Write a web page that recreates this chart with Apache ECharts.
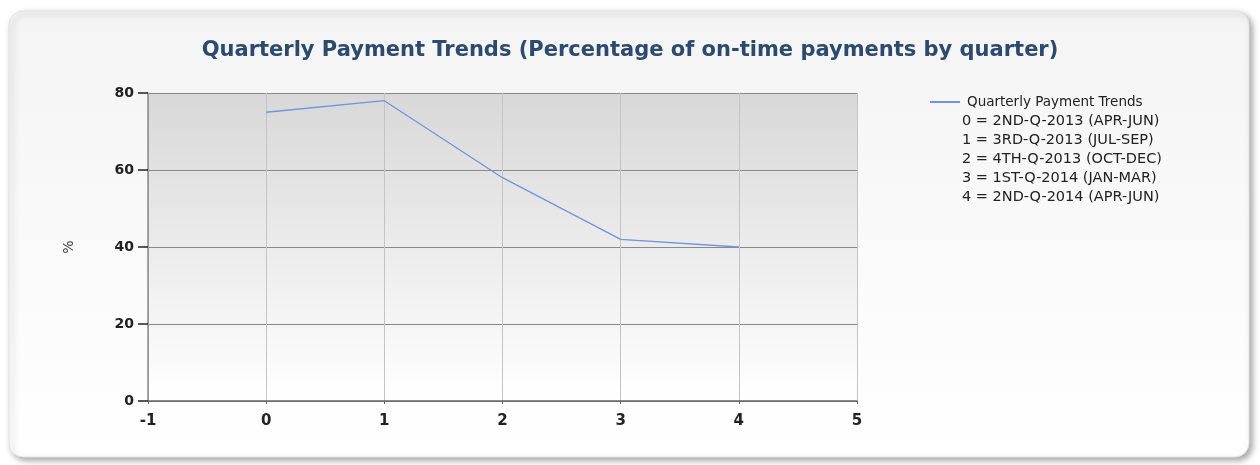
<!DOCTYPE html>
<html><head><meta charset="utf-8">
<script src="https://cdn.jsdelivr.net/npm/echarts@6/dist/echarts.min.js"></script>
<style>html,body{margin:0;padding:0;background:#fff}#c{width:1260px;height:465px}</style>
</head><body><div id="c"></div>
<script>
const quarters = [0, 1, 2, 3, 4];
const onTimePct = [75, 78, 58, 42, 40];
const quarterLabels = [
  '0 = 2ND-Q-2013 (APR-JUN)',
  '1 = 3RD-Q-2013 (JUL-SEP)',
  '2 = 4TH-Q-2013 (OCT-DEC)',
  '3 = 1ST-Q-2014 (JAN-MAR)',
  '4 = 2ND-Q-2014 (APR-JUN)'
];
const yTicks = [0, 20, 40, 60, 80];
const xTicks = [-1, 0, 1, 2, 3, 4, 5];
const seriesName = 'Quarterly Payment Trends';
const titleText = 'Quarterly Payment Trends (Percentage of on-time payments by quarter)';

const chart = echarts.init(document.getElementById('c'), null, {renderer: 'canvas'});
const font = 'Tahoma, "DejaVu Sans", sans-serif';
chart.setOption({
  animation: false,
  backgroundColor: '#ffffff',
  graphic: [
    {
      type: 'rect', z: -10,
      shape: {x: 9, y: 11, width: 1240, height: 446, r: 14},
      style: {
        fill: new echarts.graphic.LinearGradient(0, 0, 0, 1, [
          {offset: 0, color: '#f4f4f4'}, {offset: 1, color: '#ffffff'}
        ]),
        stroke: '#e2e2e2', lineWidth: 1,
        shadowBlur: 6, shadowOffsetX: 3, shadowOffsetY: 3, shadowColor: 'rgba(0,0,0,0.35)'
      }
    },
    {
      type: 'text', left: 962, top: 112, z: 10,
      style: {
        text: quarterLabels.join('\n'),
        font: '14.5px ' + font, fill: '#222', lineHeight: 19
      }
    }
  ],
  title: {
    text: titleText, left: 'center', top: 35,
    textStyle: {color: '#2c4a6e', fontSize: 21, fontWeight: 'bold', fontFamily: font}
  },
  legend: {
    left: 925, top: 90, itemWidth: 30, itemHeight: 2, itemGap: 4,
    textStyle: {color: '#222', fontSize: 13.5, fontFamily: font, padding: [0, 0, 0, 2]},
    data: [{name: seriesName, icon: 'path://M0,0H30V2H0Z'}]
  },
  grid: {
    left: 148, right: 403, top: 93, bottom: 64,
    show: true, borderColor: '#8a8a8a', borderWidth: 0,
    backgroundColor: new echarts.graphic.LinearGradient(0, 0, 0, 1, [
      {offset: 0, color: '#d8d8d8'}, {offset: 1, color: '#ffffff'}
    ])
  },
  xAxis: {
    type: 'value', min: xTicks[0], max: xTicks[xTicks.length - 1], interval: 1,
    axisLine: {show: true, onZero: false, lineStyle: {color: '#666', width: 1.5}},
    axisTick: {show: true, length: 3, lineStyle: {color: '#666'}},
    axisLabel: {color: '#222', fontSize: 15, fontWeight: 'bold', fontFamily: font, margin: 13},
    splitLine: {show: true, lineStyle: {color: '#c4c4c4'}}
  },
  yAxis: {
    type: 'value', min: yTicks[0], max: yTicks[yTicks.length - 1], interval: 20,
    name: '%', nameLocation: 'middle', nameGap: 72, nameRotate: 90,
    nameTextStyle: {color: '#444', fontSize: 14, fontFamily: font},
    axisLine: {show: true, onZero: false, lineStyle: {color: '#8a8a8a', width: 1.5}},
    axisTick: {show: true, inside: false, length: 10, lineStyle: {color: '#222', width: 1.5}},
    axisLabel: {color: '#222', fontSize: 14, fontWeight: 'bold', fontFamily: font, margin: 14},
    splitLine: {show: true, lineStyle: {color: '#8a8a8a'}}
  },
  series: [{
    name: seriesName, type: 'line',
    data: quarters.map((q, i) => [q, onTimePct[i]]),
    showSymbol: false, symbol: 'none',
    lineStyle: {color: '#6f95dc', width: 1.3},
    itemStyle: {color: '#6f95dc'}
  }]
});
</script></body></html>
